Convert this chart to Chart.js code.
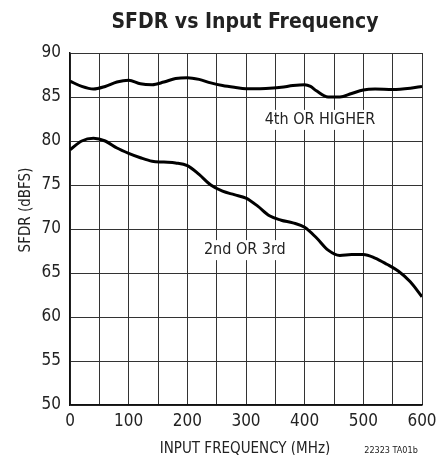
<!DOCTYPE html>
<html>
<head>
<meta charset="utf-8">
<script src="https://cdn.jsdelivr.net/npm/chart.js@4"></script>
<style>
html,body{margin:0;padding:0;background:#fff;}
#wrap{width:436px;height:455px;}
</style>
</head>
<body>
<div id="wrap"><canvas id="c" width="436" height="455"></canvas></div>
<script>
const FONT = "'Liberation Sans Narrow', 'DejaVu Sans Condensed', 'Liberation Sans', sans-serif";
const freqMHz = [0,20,40,60,80,100,120,140,160,180,200,220,240,260,280,300,320,340,360,380,400,410,420,440,460,480,500,520,550,580,600];
const higherOrder = [86.8,86.2,85.9,86.2,86.7,86.9,86.5,86.4,86.7,87.1,87.2,87.0,86.6,86.3,86.1,85.95,85.95,86.0,86.1,86.3,86.4,86.2,85.7,85.0,85.0,85.4,85.8,85.9,85.85,86.0,86.2];
const freqMHz2 = [0,20,40,60,80,100,120,140,160,180,200,220,240,260,280,300,320,340,360,380,400,420,440,460,480,500,520,540,560,580,600];
const secondThird = [79.0,80.0,80.3,80.0,79.2,78.6,78.1,77.7,77.6,77.5,77.2,76.2,75.0,74.3,73.9,73.5,72.6,71.5,71.0,70.7,70.2,69.0,67.6,67.0,67.1,67.1,66.7,66.0,65.2,64.0,62.3];
const yTicks = [50,55,60,65,70,75,80,85,90];
const xTickLabels = [0,100,200,300,400,500,600];
const titleText = "SFDR vs Input Frequency";
const xTitle = "INPUT FREQUENCY (MHz)";
const yTitle = "SFDR (dBFS)";
const noteText = "22323 TA01b";
const curveLabels = [
  {text:"4th OR HIGHER", x:426, y:82.4},
  {text:"2nd OR 3rd", x:298, y:67.6}
];

const textPlugin = {
  id:'texts',
  afterDatasetsDraw(chart){
    const ctx = chart.ctx, xs = chart.scales.x, ys = chart.scales.y;
    ctx.save();
    ctx.textAlign = 'center';
    ctx.textBaseline = 'middle';
    ctx.font = "16px " + FONT;
    curveLabels.forEach(l=>{
      const px = xs.getPixelForValue(l.x), py = ys.getPixelForValue(l.y);
      const w = ctx.measureText(l.text).width;
      ctx.fillStyle = '#fff';
      ctx.fillRect(px - w/2 - 3, py - 10, w + 6, 20);
      ctx.fillStyle = '#222';
      ctx.fillText(l.text, px, py);
    });
    ctx.restore();
  },
  afterDraw(chart){
    const ctx = chart.ctx;
    ctx.save();
    ctx.fillStyle = '#222';
    ctx.textAlign = 'center';
    ctx.textBaseline = 'middle';
    ctx.font = "bold 21px " + FONT;
    ctx.fillText(titleText, 245, 23);
    ctx.font = "15px " + FONT;
    ctx.fillText(xTitle, 245, 449);
    ctx.font = "9px " + FONT;
    ctx.fillText(noteText, 391, 451);
    ctx.translate(26, 210);
    ctx.rotate(-Math.PI/2);
    ctx.font = "15px " + FONT;
    ctx.fillText(yTitle, 0, 0);
    ctx.restore();
  }
};

new Chart(document.getElementById('c'), {
  type:'line',
  data:{
    datasets:[
      {data: freqMHz.map((f,i)=>({x:f,y:higherOrder[i]})), borderColor:'#000', borderWidth:3, pointRadius:0, cubicInterpolationMode:'monotone', fill:false},
      {data: freqMHz2.map((f,i)=>({x:f,y:secondThird[i]})), borderColor:'#000', borderWidth:3, pointRadius:0, cubicInterpolationMode:'monotone', fill:false}
    ]
  },
  options:{
    responsive:false,
    animation:false,
    layout:{padding:{left:0,right:14,top:53,bottom:0}},
    plugins:{legend:{display:false}, tooltip:{enabled:false}, title:{display:false}},
    scales:{
      x:{
        type:'linear', min:0, max:600,
        afterFit(s){ s.height = 50; s.paddingLeft = 0; s.paddingRight = 0; },
        ticks:{stepSize:50, color:'#222', padding:6, maxRotation:0, autoSkip:false,
          font:{family:FONT, size:17},
          callback:(v)=> xTickLabels.includes(v) ? String(v) : ''},
        grid:{color:'#333', lineWidth:1, drawTicks:false},
        border:{color:'#111', width:1.5}
      },
      y:{
        min:50, max:90,
        afterFit(s){ s.width = 70; s.paddingTop = 0; s.paddingBottom = 0; },
        afterBuildTicks(s){ s.ticks = yTicks.map(v=>({value:v})); },
        ticks:{color:'#222', padding:9, font:{family:FONT, size:17}},
        grid:{color:'#333', lineWidth:1, drawTicks:false},
        border:{color:'#111', width:1.5}
      }
    }
  },
  plugins:[textPlugin]
});
</script>
</body>
</html>
